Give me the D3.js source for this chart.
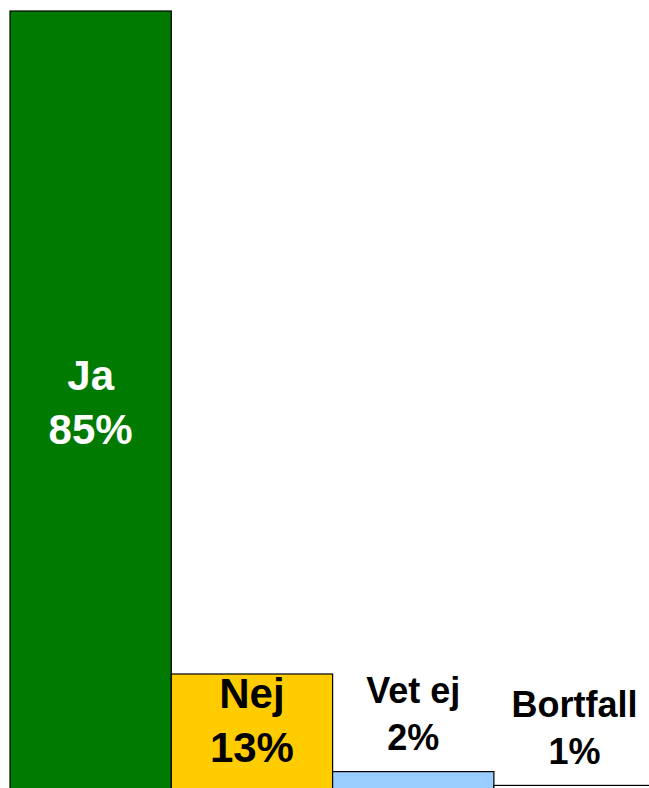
<!DOCTYPE html>
<html>
<head>
<meta charset="utf-8">
<script src="https://cdn.jsdelivr.net/npm/d3@7"></script>
<style>
  html, body { margin: 0; padding: 0; background: #fff; overflow: hidden; }
  svg { display: block; }
</style>
</head>
<body>
<script>
const categories = ["Ja", "Nej", "Vet ej", "Bortfall"];
const values = [85, 13, 2.4, 0.9];
const valueLabels = ["85%", "13%", "2%", "1%"];
const colors = ["#007A00", "#FFCC00", "#99CCFF", "#FFFFFF"];
const labelColors = ["#FFFFFF", "#000000", "#000000", "#000000"];
const labelInside = [true, true, false, false];

const W = 649, H = 788;
const svg = d3.select("body").append("svg").attr("width", W).attr("height", H);

const x = d3.scaleBand().domain(categories).range([10, 655.2]).padding(0);
const y = d3.scaleLinear().domain([0, 85]).range([793.7, 11]);

const data = categories.map((c, i) => ({
  cat: c, v: values[i], lab: valueLabels[i], col: colors[i],
  tcol: labelColors[i], inside: labelInside[i]
}));

svg.selectAll("rect.bar").data(data).enter().append("rect")
  .attr("class", "bar")
  .attr("x", d => x(d.cat))
  .attr("y", d => y(d.v))
  .attr("width", x.bandwidth())
  .attr("height", d => y(0) - y(d.v))
  .attr("fill", d => d.col)
  .attr("stroke", "#000")
  .attr("stroke-width", 1.2);

const g = svg.selectAll("g.lab").data(data).enter().append("g").attr("class", "lab");

g.each(function(d) {
  const sel = d3.select(this);
  const cx = x(d.cat) + x.bandwidth() / 2;
  const top = y(d.v), h = y(0) - y(d.v);
  let fs, lh, base1;
  if (d.inside) {
    fs = 42; lh = 54;
    const center = h > 200 ? top + h / 2 : top + 46;
    const capH = fs * 0.716;
    const blockH = capH + lh;
    base1 = center - blockH / 2 + capH;
  } else {
    fs = 36; lh = 46.7;
    base1 = top - 21.5 - lh;
  }
  [d.cat, d.lab].forEach((t, i) => {
    sel.append("text")
      .attr("x", cx)
      .attr("y", base1 + i * lh)
      .attr("text-anchor", "middle")
      .attr("font-family", "Liberation Sans, Arial, sans-serif")
      .attr("font-weight", "bold")
      .attr("font-size", fs)
      .attr("fill", d.tcol)
      .text(t);
  });
});
</script>
</body>
</html>
